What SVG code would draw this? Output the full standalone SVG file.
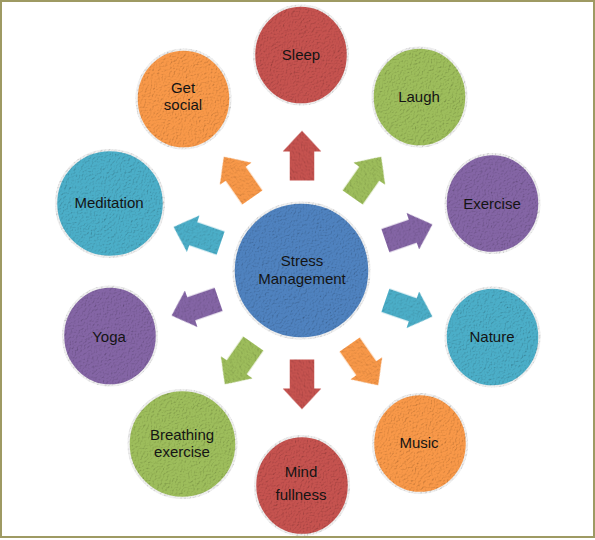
<svg xmlns="http://www.w3.org/2000/svg" width="595" height="540" viewBox="0 0 595 540">
<style>
  .lbl { font-family: "Liberation Sans", Arial, sans-serif; font-size: 15px; fill: #141414; text-anchor: middle; }
  .node { stroke: #f0f0f0; stroke-width: 2.5; filter: url(#tex); }
  .arr { filter: url(#tex); }
  .red { fill: #c5524f; }
  .green { fill: #9dbd5b; }
  .purple { fill: #8465a5; }
  .teal { fill: #4caec8; }
  .orange { fill: #f89848; }
  .blue { fill: #4f82bf; }
</style>
<defs>
  <filter id="tex" x="-10%" y="-10%" width="120%" height="120%">
    <feTurbulence type="fractalNoise" baseFrequency="0.75" numOctaves="3" seed="4" result="n"/>
    <feDiffuseLighting in="n" surfaceScale="1.3" diffuseConstant="1.2" lighting-color="#ffffff" result="l">
      <feDistantLight azimuth="225" elevation="55"/>
    </feDiffuseLighting>
    <feComposite in="SourceGraphic" in2="l" operator="arithmetic" k1="1" k2="0" k3="0" k4="0" result="m"/>
    <feComposite in="m" in2="SourceAlpha" operator="in"/>
  </filter>
  <path id="arrow" d="M-25,-12.5 L4,-12.5 L4,-19.5 L25,0 L4,19.5 L4,12.5 L-25,12.5 Z"/>
</defs>
<rect x="0" y="0" width="595" height="540" fill="#ffffff"/>
<rect x="1" y="1" width="593" height="536" fill="none" stroke="#9e9a63" stroke-width="2"/>

<g id="connectors">
  <use href="#arrow" class="arr red" transform="translate(302,155.5) rotate(-90)"/>
  <use href="#arrow" class="arr green" transform="translate(367,177) rotate(-55)"/>
  <use href="#arrow" class="arr purple" transform="translate(409,232.5) rotate(-19)"/>
  <use href="#arrow" class="arr teal" transform="translate(409,308.5) rotate(19)"/>
  <use href="#arrow" class="arr orange" transform="translate(364,365) rotate(55)"/>
  <use href="#arrow" class="arr red" transform="translate(302,384.5) rotate(90)"/>
  <use href="#arrow" class="arr green" transform="translate(239,364) rotate(125)"/>
  <use href="#arrow" class="arr purple" transform="translate(195,307.5) rotate(161)"/>
  <use href="#arrow" class="arr teal" transform="translate(197,235) rotate(-161)"/>
  <use href="#arrow" class="arr orange" transform="translate(238,177) rotate(-125)"/>
</g>

<g id="stress-management">
  <circle class="node blue" cx="301.5" cy="270.5" r="68"/>
  <text class="lbl" x="302" y="266">Stress</text>
  <text class="lbl" x="302" y="284">Management</text>
</g>
<g id="sleep">
  <ellipse class="node red" cx="301" cy="55" rx="47" ry="49.5"/>
  <text class="lbl" x="301" y="60">Sleep</text>
</g>
<g id="laugh">
  <ellipse class="node green" cx="419.5" cy="97" rx="47" ry="49.5"/>
  <text class="lbl" x="419" y="102">Laugh</text>
</g>
<g id="exercise">
  <ellipse class="node purple" cx="492.5" cy="203.5" rx="47" ry="49.5"/>
  <text class="lbl" x="492" y="209">Exercise</text>
</g>
<g id="nature">
  <ellipse class="node teal" cx="492.5" cy="337" rx="47" ry="49.5"/>
  <text class="lbl" x="492" y="342">Nature</text>
</g>
<g id="music">
  <ellipse class="node orange" cx="420" cy="443.5" rx="47" ry="49.5"/>
  <text class="lbl" x="419" y="448">Music</text>
</g>
<g id="mindfullness">
  <ellipse class="node red" cx="302" cy="485.5" rx="47" ry="49.5"/>
  <text class="lbl" x="301" y="477">Mind</text>
  <text class="lbl" x="301" y="500">fullness</text>
</g>
<g id="breathing-exercise">
  <ellipse class="node green" cx="182.5" cy="444" rx="54" ry="54"/>
  <text class="lbl" x="182" y="440">Breathing</text>
  <text class="lbl" x="182" y="457">exercise</text>
</g>
<g id="yoga">
  <ellipse class="node purple" cx="110" cy="336" rx="47" ry="49.5"/>
  <text class="lbl" x="109" y="342">Yoga</text>
</g>
<g id="meditation">
  <ellipse class="node teal" cx="110" cy="203.5" rx="54" ry="53.5"/>
  <text class="lbl" x="109" y="208">Meditation</text>
</g>
<g id="get-social">
  <ellipse class="node orange" cx="183.5" cy="99" rx="47" ry="49.5"/>
  <text class="lbl" x="183" y="93">Get</text>
  <text class="lbl" x="183" y="110">social</text>
</g>
</svg>
